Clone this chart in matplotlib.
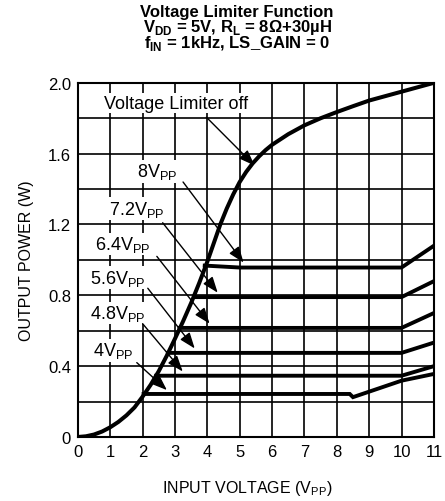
import numpy as np
import matplotlib.pyplot as plt

plt.rcParams['font.family'] = ['Liberation Sans', 'DejaVu Sans']
plt.rcParams['mathtext.fontset'] = 'custom'
plt.rcParams['mathtext.rm'] = 'Liberation Sans'
plt.rcParams['mathtext.bf'] = 'Liberation Sans:bold'

# limiter off curve
off_x = [0, 0.25, 0.5, 0.75, 1.0, 1.25, 1.5, 1.75, 2.0, 2.25, 2.5, 2.75, 3.0, 3.25, 3.5, 3.75, 4.0,
         4.2, 4.4, 4.6, 4.8, 5.0, 5.2, 5.4, 5.6, 5.8, 6.0, 6.5, 7.0, 7.5, 8.0, 8.5, 9.0, 9.5, 10.0, 10.5, 11.0]
off_y = [0, 0.004, 0.014, 0.031, 0.055, 0.085, 0.122, 0.167, 0.228, 0.295, 0.372, 0.46, 0.555, 0.653, 0.757, 0.87, 0.99,
         1.095, 1.2, 1.29, 1.37, 1.44, 1.497, 1.545, 1.585, 1.62, 1.65, 1.71, 1.76, 1.80, 1.835, 1.868, 1.90, 1.925, 1.95, 1.975, 2.0]

# limited curves
lim_x = {
    '4': [2.03, 8.4, 8.5, 10, 11],
    '4.8': [2.42, 10, 11],
    '5.6': [2.78, 10, 11],
    '6.4': [3.14, 10, 11],
    '7.2': [3.6, 10, 11],
    '8': [3.92, 5.0, 10, 11],
}
lim_y = {
    '4': [0.243, 0.243, 0.225, 0.318, 0.356],
    '4.8': [0.346, 0.346, 0.40],
    '5.6': [0.475, 0.475, 0.533],
    '6.4': [0.616, 0.616, 0.70],
    '7.2': [0.79, 0.79, 0.88],
    '8': [0.968, 0.957, 0.957, 1.08],
}

# label text position, arrow start, arrow tip
labels = ['Voltage Limiter off', '8V$_\\mathrm{PP}$', '7.2V$_\\mathrm{PP}$', '6.4V$_\\mathrm{PP}$',
          '5.6V$_\\mathrm{PP}$', '4.8V$_\\mathrm{PP}$', '4V$_\\mathrm{PP}$']
text_xy = [(3.04, 1.885), (2.44, 1.50), (1.82, 1.29), (1.39, 1.09), (1.23, 0.90), (1.23, 0.70), (1.08, 0.49)]
start_xy = [(3.97, 1.806), (3.25, 1.44), (2.62, 1.21), (2.44, 1.02), (2.16, 0.84), (2.0, 0.64), (1.82, 0.42)]
tip_xy = [(5.46, 1.533), (5.12, 0.985), (4.32, 0.815), (4.07, 0.64), (3.61, 0.50), (3.24, 0.37), (2.75, 0.265)]

fig = plt.figure(figsize=(4.45, 5.02), dpi=100)
ax = fig.add_axes([0.175, 0.1275, 0.80, 0.7055])

ax.plot(off_x, off_y, color='black', lw=2.9, solid_capstyle='butt')
for k in lim_x:
    ax.plot(lim_x[k], lim_y[k], color='black', lw=2.8, solid_joinstyle='miter')

for lab, t, s, p in zip(labels, text_xy, start_xy, tip_xy):
    ax.text(t[0], t[1], lab, fontsize=13, ha='center', va='center',
            bbox=dict(facecolor='white', edgecolor='none', pad=1.0), zorder=4)
    ax.annotate('', xy=p, xytext=s, zorder=5,
                arrowprops=dict(arrowstyle='-|>,head_length=0.8,head_width=0.3', mutation_scale=12,
                                color='black', lw=1.0, shrinkA=0, shrinkB=0))

ax.set_xlim(0, 11)
ax.set_ylim(0, 2.0)
ax.set_xticks(np.arange(0, 12, 1))
ax.set_yticks([0, 0.4, 0.8, 1.2, 1.6, 2.0])
ax.set_yticklabels(['0', '0.4', '0.8', '1.2', '1.6', '2.0'])
ax.set_yticks(np.arange(0.2, 2.0, 0.4), minor=True)
ax.grid(True, which='both', color='black', lw=1.2)
ax.tick_params(which='both', length=0, labelsize=12, pad=5)
for sp in ax.spines.values():
    sp.set_linewidth(1.5)

ax.set_xlabel('INPUT VOLTAGE (V$_\\mathrm{PP}$)', fontsize=11.5, va='center')
ax.xaxis.set_label_coords(0.475, -0.144)
ax.set_ylabel('OUTPUT POWER (W)', fontsize=11.5, labelpad=10)

fig.text(0.533, 0.975, 'Voltage Limiter Function', fontsize=12, fontweight='bold', ha='center', va='center')
fig.text(0.533, 0.945, 'V$_\\mathbf{DD}$ = 5V, R$_\\mathbf{L}$ = 8Ω+30µH', fontsize=12, fontweight='bold', ha='center', va='center')
fig.text(0.533, 0.914, 'f$_\\mathbf{IN}$ = 1kHz, LS_GAIN = 0', fontsize=12, fontweight='bold', ha='center', va='center')

fig.savefig('out.png', dpi=100)
